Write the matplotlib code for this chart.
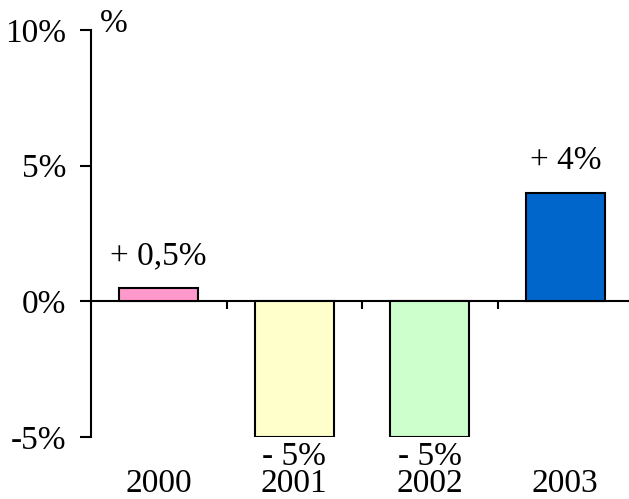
import matplotlib
matplotlib.use("Agg")
import matplotlib.pyplot as plt
from matplotlib.transforms import blended_transform_factory

years = ["2000", "2001", "2002", "2003"]
values = [0.5, -5, -5, 4]
labels = ["+ 0,5%", "- 5%", "- 5%", "+ 4%"]
colors = ["#FF99CC", "#FFFFCC", "#CCFFCC", "#0066CC"]
yticks = [-5, 0, 5, 10]
ytick_labels = ["-5%", "0%", "5%", "10%"]

plt.rcParams["font.family"] = ["Liberation Serif", "DejaVu Serif"]

fig = plt.figure(figsize=(6.29, 4.99), dpi=100)
ax = fig.add_axes([91/629, (499-437)/499, 538/629, 407/499])

x = list(range(len(years)))
ax.bar(x, values, width=0.58, color=colors, edgecolor="black", linewidth=1.5, zorder=3)

ax.set_xlim(-0.5, -0.5 + 538/135.5)
ax.set_ylim(-5, 10)

for s in ["top", "right"]:
    ax.spines[s].set_visible(False)
ax.spines["left"].set_linewidth(1.5)
ax.spines["bottom"].set_position(("data", 0))
ax.spines["bottom"].set_linewidth(1.5)

ax.set_yticks(yticks)
ax.set_yticklabels(ytick_labels, fontsize=24)
ax.tick_params(axis="y", direction="out", length=8, width=1.5, pad=10)

ax.set_xticks([0.5, 1.5, 2.5])
ax.set_xticklabels([])
ax.tick_params(axis="x", direction="out", length=6, width=1.5)

trans = blended_transform_factory(ax.transData, ax.transAxes)
for xi, yr in zip(x, years):
    ax.text(xi, -47/407, yr, transform=trans, ha="center", va="center", fontsize=24)

for xi, v, lab in zip(x, values, labels):
    if v >= 0:
        ax.annotate(lab, (xi, v), xytext=(0, 23), textcoords="offset points",
                    ha="center", va="center", fontsize=24)
    else:
        ax.annotate(lab, (xi, v), xytext=(0, -14), textcoords="offset points",
                    ha="center", va="center", fontsize=24)

fig.text(100/629, 1 - 24/499, "%", ha="left", va="center", fontsize=24)

fig.savefig("out.png", dpi=100)
